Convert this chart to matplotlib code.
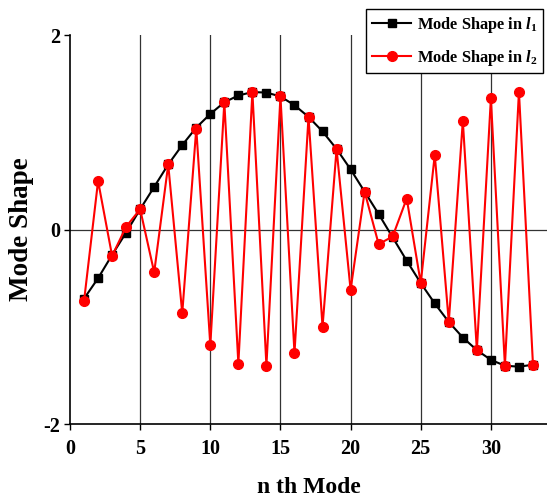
import matplotlib
matplotlib.use("Agg")
import matplotlib.pyplot as plt

plt.rcParams['font.family'] = ['Liberation Serif', 'DejaVu Serif']
plt.rcParams['font.weight'] = 'bold'
plt.rcParams['axes.unicode_minus'] = False
plt.rcParams['mathtext.fontset'] = 'custom'
plt.rcParams['mathtext.rm'] = 'Liberation Serif:bold'
plt.rcParams['mathtext.it'] = 'Liberation Serif:italic:bold'

# mode number
modes = list(range(1, 34))

# mode shape in l1 (smooth)
shape_l1 = [-0.71, -0.50, -0.26, -0.03, 0.21, 0.44, 0.67, 0.87, 1.05, 1.19,
            1.31, 1.38, 1.415, 1.41, 1.37, 1.28, 1.16, 1.01, 0.83, 0.62,
            0.39, 0.16, -0.08, -0.32, -0.55, -0.76, -0.95, -1.11, -1.24, -1.34,
            -1.40, -1.41, -1.39]

# mode shape in l2 (alternating)
shape_l2 = [-0.735, 0.50, -0.27, 0.03, 0.21, -0.44, 0.67, -0.86, 1.04, -1.19,
            1.31, -1.38, 1.415, -1.40, 1.37, -1.27, 1.16, -1.00, 0.83, -0.62,
            0.39, -0.15, -0.07, 0.32, -0.55, 0.77, -0.95, 1.12, -1.24, 1.35,
            -1.40, 1.42, -1.39]

xticks = [0, 5, 10, 15, 20, 25, 30]
yticks = [-2, 0, 2]

fig = plt.figure(figsize=(5.47, 5.03), dpi=100)
ax = fig.add_axes([0.128, 0.157, 0.872, 0.773])

for x in xticks[1:]:
    ax.axvline(x, color='#333333', lw=0.9, zorder=1)
ax.axhline(0, color='#333333', lw=0.9, zorder=1)

ax.plot(modes, shape_l1, color='black', lw=1.5, marker='s', ms=5.5,
        label=r'Mode Shape in $\mathit{l}_\mathit{1}$', zorder=3)
ax.plot(modes, shape_l2, color='red', lw=1.5, marker='o', ms=7,
        label=r'Mode Shape in $\mathit{l}_\mathit{2}$', zorder=4)

ax.set_xlim(0, 34)
ax.set_ylim(-2, 2)
ax.set_xticks(xticks)
ax.set_yticks(yticks)
ax.tick_params(direction='out', length=4, width=1, labelsize=14.5)
ax.tick_params(axis='x', pad=7)
ax.tick_params(axis='y', pad=3)
for lab in ax.get_xticklabels() + ax.get_yticklabels():
    lab.set_fontweight('bold')

ax.spines['top'].set_visible(False)
ax.spines['right'].set_visible(False)
ax.spines['left'].set_linewidth(1.2)
ax.spines['bottom'].set_linewidth(1.2)

ax.set_xlabel('n th Mode', fontsize=17, fontweight='bold', labelpad=13)
ax.set_ylabel('Mode Shape', fontsize=19.5, fontweight='bold', labelpad=7)

leg = ax.legend(loc='upper right', bbox_to_anchor=(0.992, 1.068), fancybox=False,
                edgecolor='black', framealpha=1, fontsize=11.8, handlelength=2.4,
                borderpad=0.35, labelspacing=0.8, handletextpad=0.35,
                borderaxespad=0)
leg.get_frame().set_linewidth(1.0)

fig.savefig('out.png', dpi=100)
